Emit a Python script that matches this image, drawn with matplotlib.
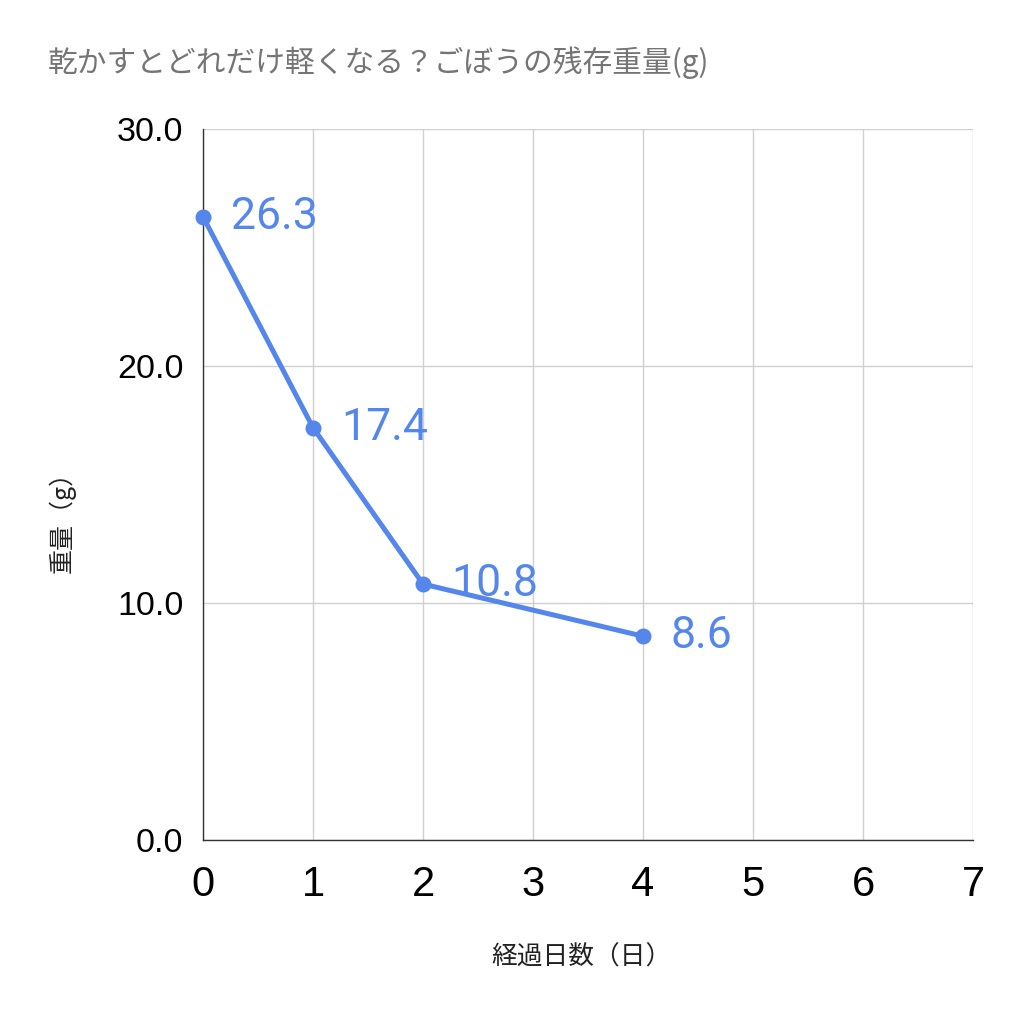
import matplotlib
matplotlib.use("Agg")
import matplotlib.pyplot as plt

days = [0, 1, 2, 4]
weights = [26.3, 17.4, 10.8, 8.6]
x_ticks = [0, 1, 2, 3, 4, 5, 6, 7]
y_ticks = [0, 10, 20, 30]
title = "乾かすとどれだけ軽くなる？ごぼうの残存重量(g)"
xlabel = "経過日数（日）"
ylabel = "重量（g）"

plt.rcParams['font.family'] = ['Noto Sans CJK JP', 'DejaVu Sans']

W, H = 1024, 1021
fig = plt.figure(figsize=(W / 100, H / 100), dpi=100)
ax = fig.add_axes([203 / W, 1 - 840 / H, 770 / W, 711 / H])

color = '#5586EB'
ax.plot(days, weights, color=color, lw=3.6, marker='o', ms=10.5, zorder=3, clip_on=False)
for x, y in zip(days, weights):
    ax.annotate(f"{y:.1f}", (x, y), xytext=(20, 0), textcoords='offset points',
                color=color, fontsize=32, va='center', ha='left', family='Roboto')

ax.set_xlim(0, 7)
ax.set_ylim(0, 30)
ax.set_xticks(x_ticks)
ax.set_yticks(y_ticks)
ax.set_xticklabels([str(t) for t in x_ticks], family='Liberation Sans', fontsize=30)
ax.set_yticklabels([f"{t:.1f}" for t in y_ticks], family='Liberation Sans', fontsize=24.5)
ax.tick_params(axis='x', length=0, pad=18)
ax.tick_params(axis='y', length=0, pad=14)
ax.grid(True, color='#d0d0d0', lw=1)
ax.set_axisbelow(True)
for s in ['top', 'right']:
    ax.spines[s].set_visible(False)
ax.spines['left'].set_color('#333333')
ax.spines['bottom'].set_color('#333333')
ax.spines['left'].set_linewidth(1)
ax.spines['bottom'].set_linewidth(1)

fig.text(581 / W, 1 - 958 / H, xlabel, fontsize=18.5, color='#222222', ha='center', va='center')
fig.text(62 / W, 1 - 516 / H, ylabel, fontsize=18, color='#222222', ha='center', va='center',
         rotation=90)
fig.text(48 / W, 1 - 63 / H, title, fontsize=21.4, color='#757575', va='center', ha='left')

fig.savefig("out.png", dpi=100, facecolor='white')
